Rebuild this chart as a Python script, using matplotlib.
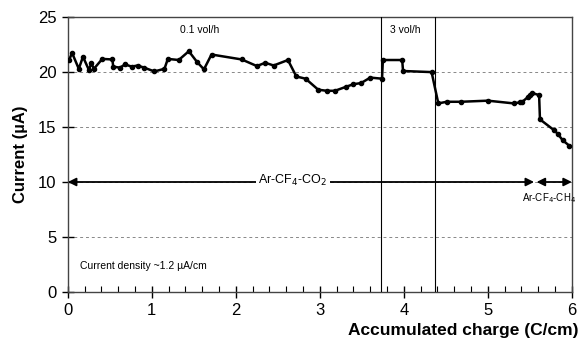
import matplotlib
matplotlib.use("Agg")
import matplotlib.pyplot as plt
from matplotlib.ticker import MultipleLocator

plt.rcParams['font.family'] = ['Liberation Sans', 'DejaVu Sans']

charge = [0.015, 0.05, 0.13, 0.18, 0.25, 0.28, 0.31, 0.41, 0.53, 0.54, 0.62, 0.68, 0.76, 0.83,
          0.91, 1.03, 1.15, 1.19, 1.32, 1.44, 1.54, 1.62, 1.71, 2.07, 2.25, 2.35, 2.45, 2.62,
          2.72, 2.83, 2.98, 3.08, 3.18, 3.31, 3.40, 3.49, 3.60, 3.74, 3.75, 3.98, 3.99, 4.33,
          4.41, 4.51, 4.68, 5.0, 5.31, 5.38, 5.41, 5.48, 5.50, 5.53, 5.61, 5.62, 5.79, 5.83,
          5.89, 5.97]
current = [21.1, 21.75, 20.3, 21.4, 20.2, 20.8, 20.3, 21.2, 21.15, 20.5, 20.4, 20.7, 20.5, 20.6,
           20.4, 20.06, 20.3, 21.2, 21.1, 21.9, 20.9, 20.25, 21.6, 21.15, 20.55, 20.85, 20.6, 21.1,
           19.6, 19.4, 18.4, 18.3, 18.3, 18.66, 18.9, 19.0, 19.5, 19.4, 21.1, 21.1, 20.1, 20.0,
           17.15, 17.3, 17.3, 17.4, 17.15, 17.25, 17.3, 17.75, 17.9, 18.1, 17.9, 15.7, 14.7, 14.4,
           13.8, 13.3]

x_ticks = [0, 1, 2, 3, 4, 5, 6]
y_ticks = [0, 5, 10, 15, 20, 25]
flow_change = [3.73, 4.37]
flow_labels = ["0.1 vol/h", "3 vol/h"]
flow_label_x = [1.57, 4.02]
gas_ranges = [(0.0, 5.55), (5.58, 6.0)]

fig = plt.figure(figsize=(5.8, 3.43), dpi=100)
ax = fig.add_axes([0.117, 0.149, 0.869, 0.801])

ax.plot(charge, current, color='black', lw=1.8, marker='o', ms=3.0, zorder=5)

ax.set_xlim(0, 6)
ax.set_ylim(0, 25)
ax.set_xticks(x_ticks)
ax.set_yticks(y_ticks)
ax.xaxis.set_minor_locator(MultipleLocator(0.2))
ax.tick_params(axis='both', which='major', direction='inout', length=8, width=1, labelsize=12, pad=4)
ax.tick_params(axis='x', which='minor', direction='in', length=4, width=0.8)
for g in [5, 10, 15, 20]:
    ax.axhline(g, color='#888888', lw=0.7, ls=(0, (3, 3)), zorder=1)
for s in ax.spines.values():
    s.set_color('#444444')
    s.set_linewidth(1.0)

for xv in flow_change:
    ax.axvline(xv, color='black', lw=0.8, zorder=3)
for lab, xv in zip(flow_labels, flow_label_x):
    ax.text(xv, 23.8, lab, ha='center', va='center', fontsize=7.5)

for (a, b) in gas_ranges:
    ax.annotate('', xy=(a, 10), xytext=(b, 10),
                arrowprops=dict(arrowstyle='<|-|>', color='black', lw=1.3,
                                mutation_scale=12, shrinkA=0, shrinkB=0), zorder=4)
ax.text(2.68, 10.1, r'Ar-CF$_4$-CO$_2$', ha='center', va='center', fontsize=9,
        bbox=dict(facecolor='white', edgecolor='none', pad=1.5), zorder=6)
ax.text(5.41, 8.5, r'Ar-CF$_4$-CH$_4$', ha='left', va='center', fontsize=7, zorder=6)
ax.text(0.14, 2.4, 'Current density ~1.2 µA/cm', ha='left', va='center', fontsize=7.5)

ax.set_ylabel('Current (µA)', fontsize=12, fontweight='bold', labelpad=7)
fig.text(0.998, 0.035, 'Accumulated charge (C/cm)', ha='right', va='center',
         fontsize=12.5, fontweight='bold')

fig.savefig('out.png', dpi=100)
